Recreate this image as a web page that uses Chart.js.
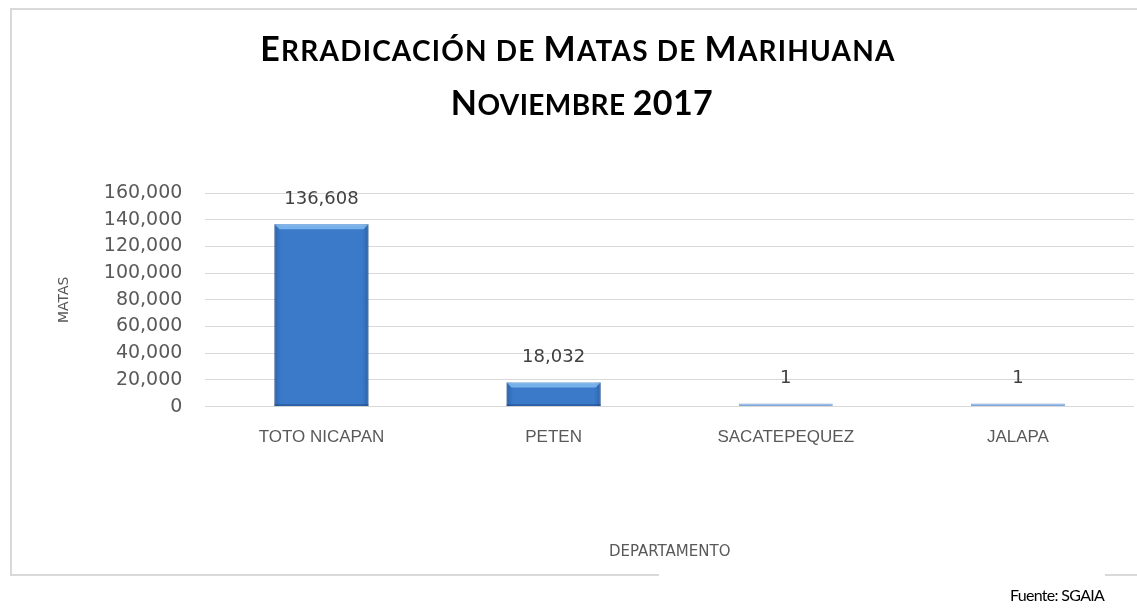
<!DOCTYPE html>
<html>
<head>
<meta charset="utf-8">
<script src="https://cdn.jsdelivr.net/npm/chart.js@4.4.0/dist/chart.umd.min.js"></script>
<style>
  html, body { margin:0; padding:0; background:#ffffff; }
  #wrap { position:relative; width:1137px; height:613px; overflow:hidden; }
  #frame { position:absolute; left:10px; top:8px; width:1160px; height:568px; border:2px solid #d9d9d9; box-sizing:border-box; }
  #gap { position:absolute; left:659px; top:572px; width:446px; height:8px; background:#ffffff; }
  #title { position:absolute; left:178px; width:800px; top:22px; text-align:center;
           font-family:"Lato", "Open Sans", sans-serif; font-weight:bold;
           font-size:34px; line-height:52px; color:#000; z-index:2; }
  #title .l1 { letter-spacing:1.2px; }
  #title .l2 { letter-spacing:0.4px; padding-left:8px; }
  #title .s { font-size:28px; text-transform:uppercase; }
  #source { position:absolute; left:1010px; top:585px; font-family:"Lato", "Open Sans", sans-serif;
            font-size:16px; letter-spacing:-0.7px; color:#000; z-index:2; }
  canvas { position:absolute; left:0; top:0; }
</style>
</head>
<body>
<div id="wrap">
  <div id="frame"></div>
  <div id="gap"></div>
  <div id="title"><div class="l1">E<span class="s">rradicación de </span>M<span class="s">atas de </span>M<span class="s">arihuana</span></div><div class="l2">N<span class="s">oviembre </span>2017</div></div>
  <div id="source">Fuente: SGAIA</div>
  <canvas id="c" width="1137" height="613"></canvas>
</div>
<script>
const categories = ["TOTO NICAPAN", "PETEN", "SACATEPEQUEZ", "JALAPA"];
const values = [136608, 18032, 1, 1];
const yTicks = [0, 20000, 40000, 60000, 80000, 100000, 120000, 140000, 160000];
const yAxisTitle = "MATAS";
const xAxisTitle = "DEPARTAMENTO";

const barLook = {
  id: 'barLook',
  afterDatasetsDraw(chart) {
    const ctx = chart.ctx;
    const meta = chart.getDatasetMeta(0);
    meta.data.forEach((bar, i) => {
      const props = bar.getProps(['x','y','base','width'], true);
      const left = props.x - props.width/2, right = props.x + props.width/2;
      const top = Math.min(props.y, props.base), bottom = Math.max(props.y, props.base);
      const h = bottom - top;
      if (h > 5) {
        ctx.save();
        const g = ctx.createLinearGradient(left, 0, right, 0);
        g.addColorStop(0, 'rgba(30,70,130,0.55)');
        g.addColorStop(0.08, 'rgba(50,110,190,0.0)');
        g.addColorStop(0.92, 'rgba(50,110,190,0.0)');
        g.addColorStop(1, 'rgba(30,70,130,0.55)');
        ctx.fillStyle = g;
        ctx.fillRect(left, top, right-left, h);
        const bev = Math.min(5, h/3);
        ctx.fillStyle = 'rgba(140,195,245,0.75)';
        ctx.beginPath();
        ctx.moveTo(left, top); ctx.lineTo(right, top);
        ctx.lineTo(right-bev, top+bev); ctx.lineTo(left+bev, top+bev); ctx.closePath();
        ctx.fill();
        ctx.fillStyle = 'rgba(20,50,100,0.35)';
        ctx.fillRect(left, bottom-2, right-left, 2);
        ctx.restore();
      }
      ctx.save();
      ctx.font = '18px "DejaVu Sans"';
      ctx.fillStyle = '#404040';
      ctx.textAlign = 'center';
      ctx.textBaseline = 'middle';
      ctx.fillText(values[i].toLocaleString('en-US'), props.x, top - 25);
      ctx.restore();
    });
  }
};

new Chart(document.getElementById('c'), {
  type: 'bar',
  data: {
    labels: categories,
    datasets: [{
      data: values,
      backgroundColor: values.map(v => v > 100 ? '#3a7ac9' : '#7fa8dc'),
      borderColor: values.map(v => v > 100 ? '#2a5796' : '#7fa8dc'),
      borderWidth: 1,
      minBarLength: 3,
      categoryPercentage: 1,
      barPercentage: 0.405
    }]
  },
  options: {
    responsive: false,
    animation: false,
    layout: { padding: { top: 193, left: 56, right: 3, bottom: 52 } },
    plugins: { legend: { display: false }, tooltip: { enabled: false }, title: { display: false } },
    scales: {
      x: {
        grid: { display: false, drawTicks: false },
        border: { display: false },
        ticks: { color: '#595959', font: { family: 'Liberation Sans', size: 17 }, padding: 21, maxRotation: 0 },
        title: { display: true, text: xAxisTitle, color: '#595959', font: { family: 'DejaVu Sans', size: 15 }, padding: { top: 74, bottom: 0 } }
      },
      y: {
        min: 0, max: 160000,
        afterBuildTicks(axis) { axis.ticks = yTicks.map(v => ({ value: v })); },
        grid: { color: '#d9d9d9', lineWidth: 1, drawTicks: false },
        border: { display: false },
        ticks: { color: '#595959', font: { family: 'DejaVu Sans', size: 19 }, padding: 23,
                  callback: v => v.toLocaleString('en-US') },
        title: { display: true, text: yAxisTitle, color: '#595959', font: { family: 'DejaVu Sans', size: 14 }, padding: { top: 0, bottom: 8 } }
      }
    }
  },
  plugins: [barLook]
});
</script>
</body>
</html>
